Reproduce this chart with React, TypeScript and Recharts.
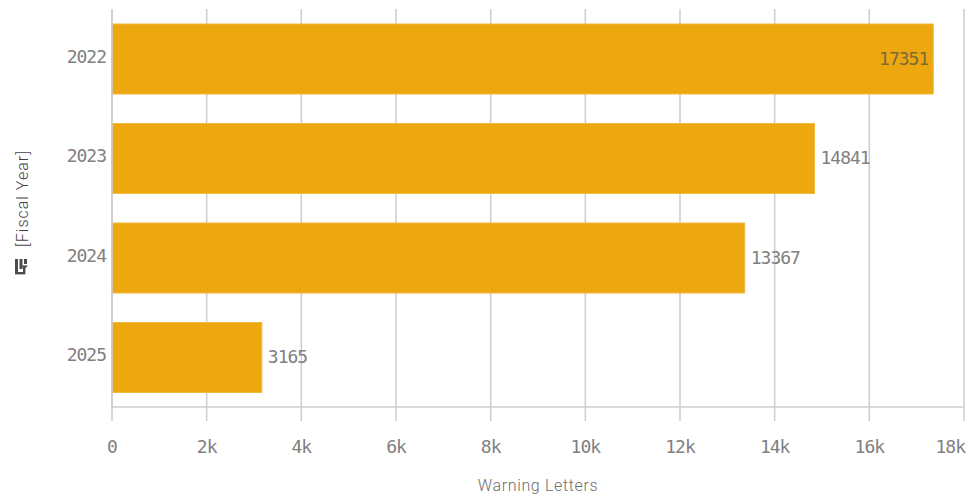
import { BarChart, Bar, XAxis, YAxis, CartesianGrid, LabelList } from 'recharts'

const years = ['2022', '2023', '2024', '2025']
const warningLetters = [17351, 14841, 13367, 3165]
const xTicks = [0, 2000, 4000, 6000, 8000, 10000, 12000, 14000, 16000, 18000]

const data = years.map((year, i) => ({ year, letters: warningLetters[i] }))

const MONO = '"DejaVu Sans Mono", monospace'
const SANS = 'Roboto, sans-serif'
const TEXT = '#808080'
const RULE = '#cccccc'
const X_MAX = 18000
// Tall, narrow digits for every numeric label
const digits = { fontFamily: MONO, fontSize: 18, letterSpacing: -1 }

// Last tick sits on the plot edge, so its label is pulled back inside the page
function XTick({ x, y, payload }: any) {
  const last = payload.value === X_MAX
  return (
    <text x={last ? x + 1 : x} y={y} dy={30} textAnchor={last ? 'end' : 'middle'} fill={TEXT} {...digits}>
      {payload.value === 0 ? '0' : `${payload.value / 1000}k`}
    </text>
  )
}

function YTick({ x, y, payload }: any) {
  return (
    <text x={x} y={y} dy={4} textAnchor="end" fill={TEXT} {...digits}>
      {payload.value}
    </text>
  )
}

// Value labels go outside the bar unless the bar reaches too close to the edge
function ValueLabel({ x, y, width, height, value }: any) {
  const inside = value > 16000
  return (
    <text x={inside ? x + width - 5 : x + width + 6} y={y + height / 2} dy={5.5}
      textAnchor={inside ? 'end' : 'start'} fill={inside ? '#7d6a38' : TEXT} {...digits}>
      {value}
    </text>
  )
}

function FieldIcon() {
  return (
    <svg width={16} height={20} viewBox="0 0 16 20"
      style={{ position: 'absolute', left: 14, top: 258 }}>
      <g fill="#4d4d4d">
        <rect x={1} y={1} width={3} height={15} />
        <rect x={1} y={14} width={10} height={2.4} />
        <rect x={5.5} y={1} width={3} height={10} />
        <rect x={10} y={1} width={3} height={5} />
        <rect x={9} y={8} width={2.4} height={8} />
        <path d="M7 7.5 h7 l-3.4 3.6 z" />
      </g>
    </svg>
  )
}

export default function App() {
  return (
    <div style={{ position: 'absolute', left: 0, top: 0, width: 969, height: 496, background: '#fff' }}>
      <BarChart width={969} height={496} data={data} layout="vertical"
        barSize={70} margin={{ top: 9, right: 5, bottom: 0, left: 0 }}>
        <CartesianGrid horizontal={false} stroke={RULE} strokeWidth={1.5} />
        <XAxis type="number" domain={[0, X_MAX]} ticks={xTicks} interval={0} height={89}
          tick={<XTick />} tickSize={14} tickLine={{ stroke: RULE, strokeWidth: 1.5 }}
          axisLine={{ stroke: RULE, strokeWidth: 1.5 }}
          label={{ value: 'Warning Letters', position: 'insideBottom', offset: 5,
            fill: '#6e6e6e', fontFamily: SANS, fontSize: 16, fontWeight: 300, letterSpacing: 0.65 }} />
        <YAxis type="category" dataKey="year" width={112} tickLine={false} tickSize={0} tickMargin={6}
          axisLine={{ stroke: RULE, strokeWidth: 1.5 }}
          tick={<YTick />}
          label={{ value: '[Fiscal Year]', angle: -90, position: 'insideLeft', offset: 0, dx: 22, dy: 39,
            fill: '#444', fontFamily: SANS, fontSize: 16, fontWeight: 300, letterSpacing: 1 }} />
        <Bar dataKey="letters" fill="#eca80e" stroke="#f0b93f" strokeWidth={1} isAnimationActive={false}>
          <LabelList dataKey="letters" content={<ValueLabel />} />
        </Bar>
      </BarChart>
      <FieldIcon />
    </div>
  )
}
